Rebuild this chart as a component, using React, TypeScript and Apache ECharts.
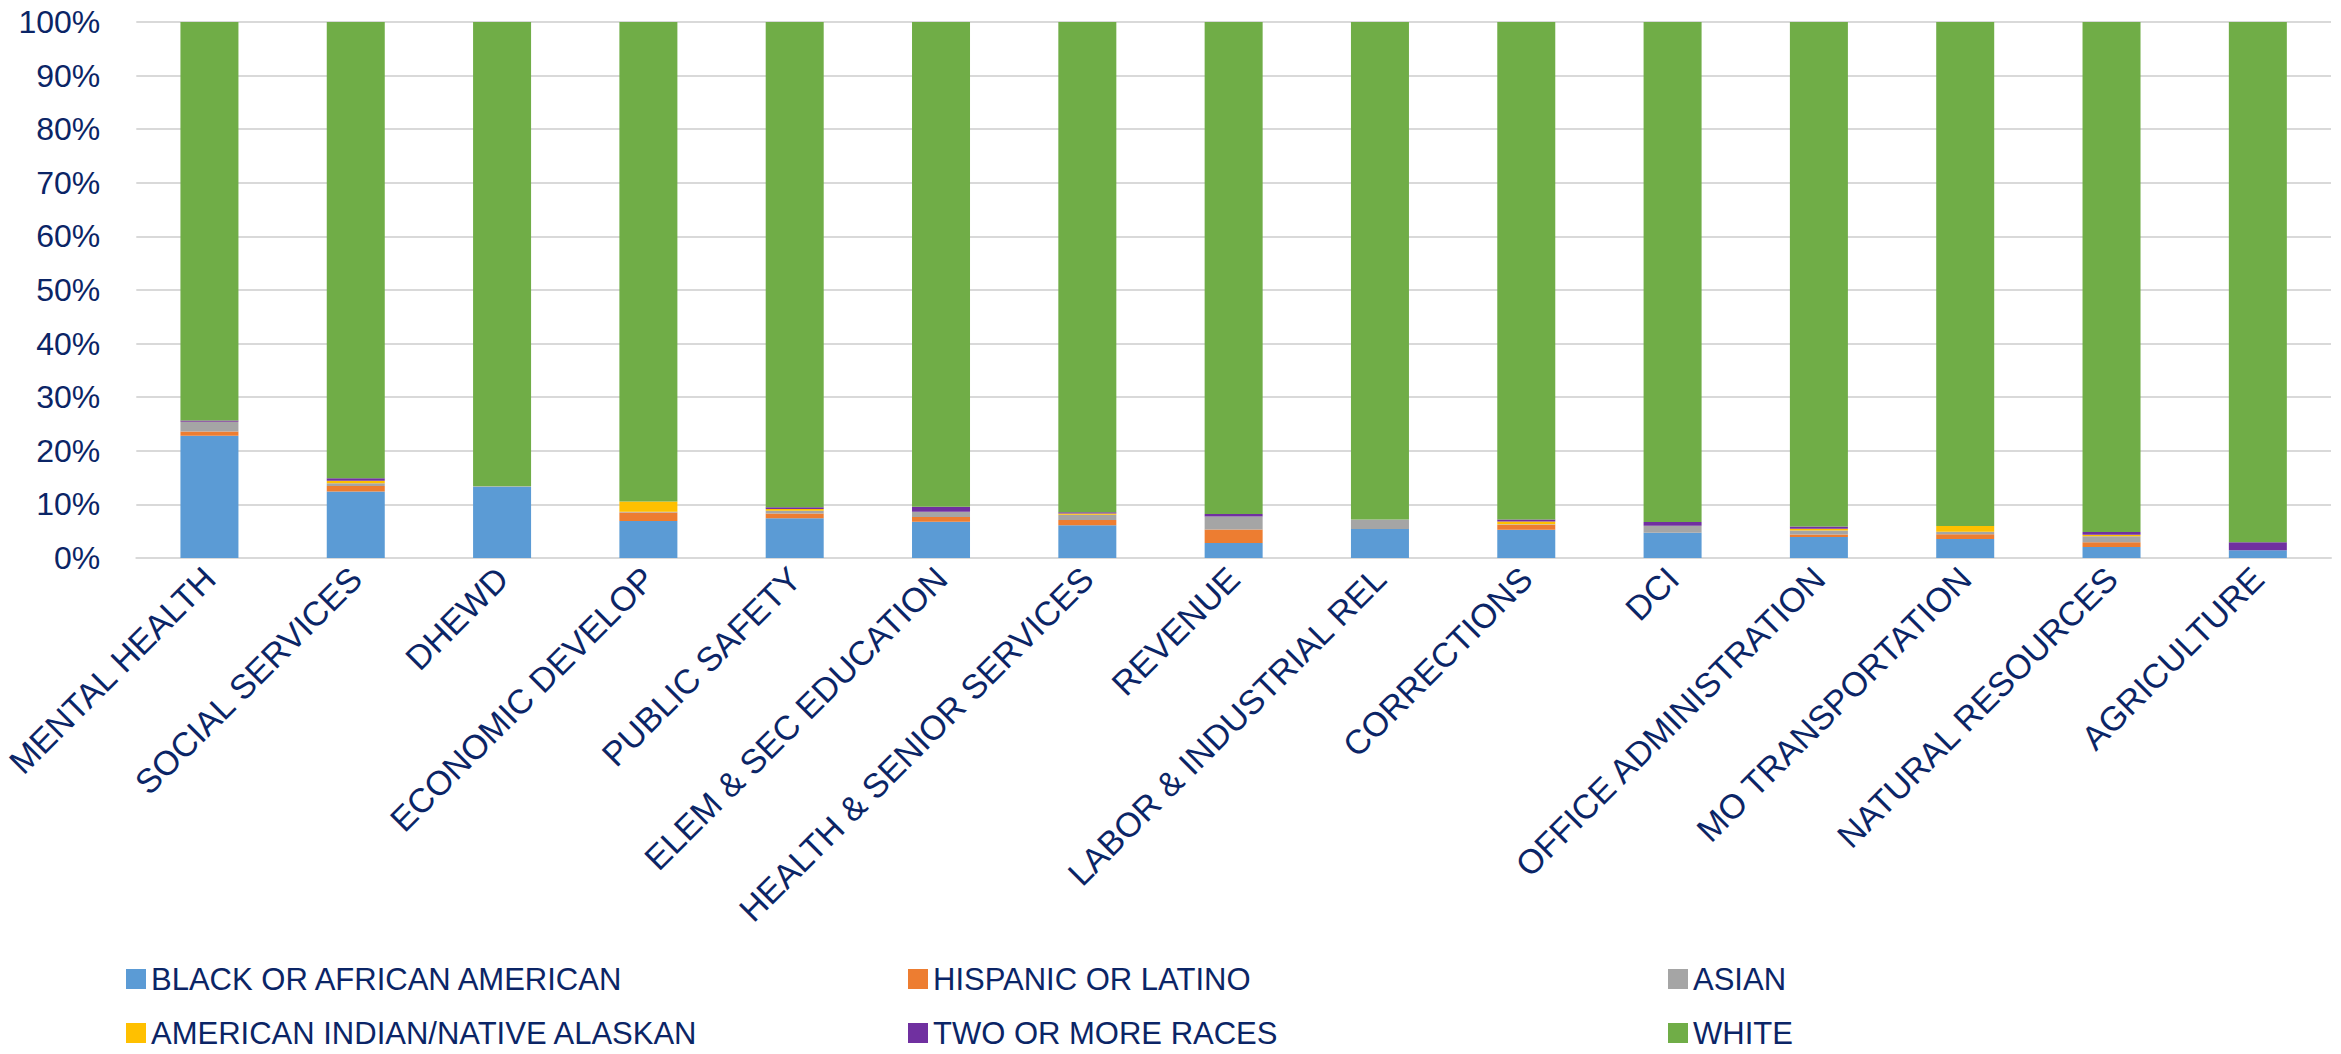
import React, { useEffect, useRef } from "react";
import * as echarts from "echarts";

const categories = [
  "MENTAL HEALTH",
  "SOCIAL SERVICES",
  "DHEWD",
  "ECONOMIC DEVELOP",
  "PUBLIC SAFETY",
  "ELEM & SEC EDUCATION",
  "HEALTH & SENIOR SERVICES",
  "REVENUE",
  "LABOR & INDUSTRIAL REL",
  "CORRECTIONS",
  "DCI",
  "OFFICE ADMINISTRATION",
  "MO TRANSPORTATION",
  "NATURAL RESOURCES",
  "AGRICULTURE",
];

const black = [22.8, 12.4, 13.3, 6.9, 7.4, 6.75, 6.1, 2.8, 5.4, 5.25, 4.7, 3.9, 3.55, 2.05, 1.45];
const hispanic = [0.8, 1.05, 0, 1.6, 0.9, 0.9, 1.0, 2.5, 0, 0.95, 0, 0.5, 0.9, 0.9, 0];
const asian = [1.75, 0.5, 0.1, 0.15, 0.5, 1.0, 0.95, 2.45, 1.8, 0.1, 1.3, 0.75, 0.45, 1.1, 0];
const amIndian = [0.05, 0.45, 0, 1.9, 0.35, 0, 0.25, 0, 0, 0.5, 0, 0.3, 1.05, 0.3, 0];
const twoOrMore = [0.25, 0.5, 0, 0, 0.3, 0.9, 0.25, 0.45, 0, 0.4, 0.7, 0.45, 0, 0.5, 1.5];
const white = [74.35, 85.1, 86.6, 89.45, 90.55, 90.45, 91.45, 91.8, 92.8, 92.8, 93.3, 94.1, 94.05, 95.15, 97.05];

const seriesNames = [
  "BLACK OR AFRICAN AMERICAN",
  "HISPANIC OR LATINO",
  "ASIAN",
  "AMERICAN INDIAN/NATIVE ALASKAN",
  "TWO OR MORE RACES",
  "WHITE",
];
const seriesData = [black, hispanic, asian, amIndian, twoOrMore, white];
const colors = ["#5B9BD5", "#ED7D31", "#A5A5A5", "#FFC000", "#7030A0", "#70AD47"];

const TEXT = "#0B2566";
const FONT = "Liberation Sans";

export default function App() {
  const ref = useRef<HTMLDivElement>(null);
  useEffect(() => {
    document.body.style.margin = "0";
    if (!ref.current) return;
    const chart = echarts.init(ref.current, undefined, { renderer: "svg" });
    const legendBase = {
      orient: "vertical" as const,
      top: 962,
      height: 120,
      padding: 0,
      itemWidth: 20,
      itemHeight: 20,
      itemGap: 20,
      selectedMode: false,
      icon: "rect",
      textStyle: { color: TEXT, fontSize: 31, fontFamily: FONT, lineHeight: 34 },
    };
    chart.setOption({
      animation: false,
      backgroundColor: "#ffffff",
      color: colors,
      grid: { left: 131, right: 10, top: 22, bottom: 496, containLabel: false },
      legend: [
        { ...legendBase, left: 126, data: [seriesNames[0], seriesNames[3]] },
        { ...legendBase, left: 908, data: [seriesNames[1], seriesNames[4]] },
        { ...legendBase, left: 1668, data: [seriesNames[2], seriesNames[5]] },
      ],
      xAxis: {
        type: "category",
        data: categories,
        axisLine: { show: true, lineStyle: { color: "#D9D9D9", width: 2 } },
        axisTick: { show: false },
        axisLabel: {
          interval: 0,
          rotate: 45,
          margin: 15,
          color: TEXT,
          fontSize: 34,
          fontFamily: FONT,
        },
      },
      yAxis: {
        type: "value",
        min: 0,
        max: 100,
        interval: 10,
        axisLine: { show: false },
        axisTick: { show: false },
        splitLine: { lineStyle: { color: "#D9D9D9", width: 2 } },
        axisLabel: {
          formatter: "{value}%",
          margin: 36,
          color: TEXT,
          fontSize: 32,
          fontFamily: FONT,
        },
      },
      series: seriesNames.map((name, i) => ({
        name,
        type: "bar",
        stack: "total",
        barWidth: 58,
        data: seriesData[i],
        itemStyle: { color: colors[i] },
      })),
    });
    return () => chart.dispose();
  }, []);
  return <div ref={ref} style={{ width: 2341, height: 1054 }} />;
}
